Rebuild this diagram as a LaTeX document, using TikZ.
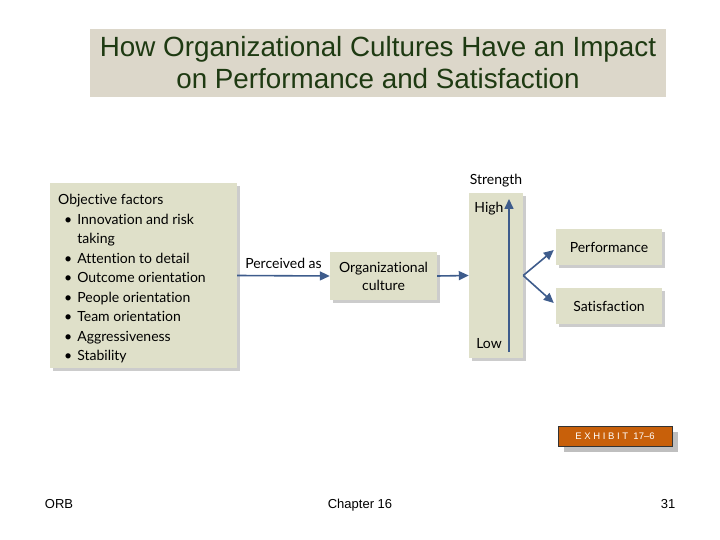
\documentclass[tikz,border=0pt]{standalone}
\usepackage{fontspec}
\setmainfont{Liberation Sans}
\newfontfamily\boxfont[Ligatures=NoCommon]{Lato}
\usetikzlibrary{shadows,arrows.meta}
\definecolor{boxfill}{HTML}{DFE0C9}
\definecolor{arrowblue}{HTML}{3E5C8C}
\definecolor{titlefill}{HTML}{DCD7CA}
\definecolor{titletext}{HTML}{1E3A12}
\definecolor{exhibitfill}{HTML}{C8600A}
\newcommand{\bul}{\hspace*{6pt}\textbullet\hspace*{5pt}}
\newcommand{\nobul}{\hspace*{6pt}\phantom{\textbullet}\hspace*{5pt}}

\begin{document}
\begin{tikzpicture}[x=1pt, y=-1pt,
    box/.style={fill=boxfill, drop shadow={shadow xshift=3pt, shadow yshift=-3pt, fill=black!40}},
    boxtext/.style={font=\boxfont\fontsize{14}{19.5}\selectfont},
    flow/.style={draw=arrowblue, line width=1.6pt, -{Triangle[length=10pt, width=9pt]}}]
    \useasboundingbox (0,0) rectangle (720,540);

    % title
    \node [fill=titlefill, minimum width=576pt, minimum height=68pt, inner sep=0] (titlebox) at (378,63) {};
    \node [align=center, text=titletext, font=\fontsize{27.8}{32}\selectfont] (title) at (378,63)
        {How Organizational Cultures Have an Impact\\on Performance and Satisfaction};

    % boxes
    \node [box, minimum width=187pt, minimum height=185pt, inner sep=0] (factors) at (143.5,275.5) {};
    \node [boxtext, anchor=north west, align=left, inner sep=0] (factorlist) at (58,194)
        {Objective factors\\
         \bul Innovation and risk\\
         \nobul taking\\
         \bul Attention to detail\\
         \bul Outcome orientation\\
         \bul People orientation\\
         \bul Team orientation\\
         \bul Aggressiveness\\
         \bul Stability};
    \node [box, boxtext, minimum width=107pt, minimum height=48pt, align=center, font=\boxfont\fontsize{14}{18}\selectfont] (culture) at (383.5,276) {Organizational\\culture};
    \node [box, minimum width=54pt, minimum height=165pt, inner sep=0] (strength) at (496,275.5) {};
    \node [box, boxtext, minimum width=106pt, minimum height=36pt] (performance) at (609,247) {Performance};
    \node [box, boxtext, minimum width=106pt, minimum height=36pt] (satisfaction) at (609,306) {Satisfaction};

    \node [boxtext] (strengthlabel) at (496,181) {Strength};
    \node [boxtext] (high) at (489,209) {High};
    \node [boxtext] (low) at (489,344) {Low};

    % arrows
    \draw [flow] (factors.east) -- (culture.west) node [midway, above=3pt, boxtext] (perceived) {Perceived as};
    \draw [flow] (culture.east) -- (strength.west);
    \coordinate (lowend) at (509,352);
    \coordinate (highend) at (509,199);
    \draw [flow] (lowend) -- (highend);
    \draw [flow] (strength.east) -- ([xshift=-2pt, yshift=-3pt]performance.west);
    \draw [flow] (strength.east) -- ([xshift=-2pt, yshift=3pt]satisfaction.west);

    % exhibit tag
    \node [fill=exhibitfill, draw=black!80, text=white, minimum width=114pt, minimum height=20pt, inner sep=0,
        drop shadow={shadow xshift=6pt, shadow yshift=-6pt, fill=black!25, opacity=1},
        font=\fontsize{9.5}{10}\selectfont] (exhibit) at (615,436) {E\ X\ H\ I\ B\ I\ T\ \ 17--6};

    % footer
    \node [anchor=base, font=\fontsize{13}{13}\selectfont] (orb) at (59,508) {ORB};
    \node [anchor=base, font=\fontsize{13}{13}\selectfont] (chapter) at (360,508) {Chapter 16};
    \node [anchor=base, font=\fontsize{13}{13}\selectfont] (page) at (668,508) {31};
\end{tikzpicture}
\end{document}
